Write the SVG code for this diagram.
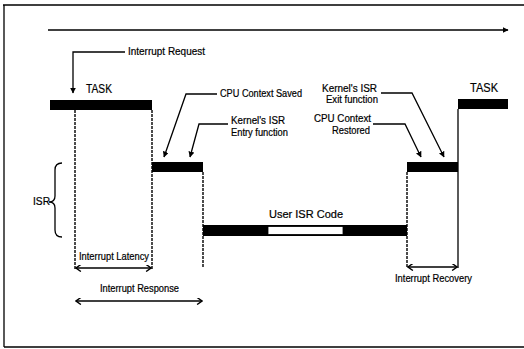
<svg xmlns="http://www.w3.org/2000/svg" width="524" height="349" viewBox="0 0 524 349">
<defs>
<marker id="ah" viewBox="0 0 10 10" refX="9" refY="5" markerWidth="6" markerHeight="6" orient="auto-start-reverse" markerUnits="userSpaceOnUse">
<path d="M0,0 L10,5 L0,10 z" fill="#000"/>
</marker>
<marker id="ch" viewBox="0 0 10 10" refX="9" refY="5" markerWidth="7" markerHeight="7" orient="auto-start-reverse" markerUnits="userSpaceOnUse">
<path d="M2,0 L9,5 L2,10" fill="none" stroke="#000" stroke-width="2"/>
</marker>
<style>
text{font-family:"Liberation Sans",Arial,sans-serif;font-size:10px;fill:#000;stroke:#000;stroke-width:0.2}
.big{font-size:12.5px}
.ln{stroke:#000;stroke-width:1.3;fill:none}
.dot{stroke:#000;stroke-width:1.4;fill:none;stroke-dasharray:3 1}
.bar{fill:#000}
.lead{stroke:#000;stroke-width:1.3;fill:none;marker-end:url(#ah)}
.dbl{stroke:#000;stroke-width:1.6;fill:none;marker-start:url(#ch);marker-end:url(#ch)}
</style>
</defs>
<rect width="524" height="349" fill="#fff"/>
<g id="frame">
<path class="ln" d="M3,5 H524 M4,5 V347 M4,347 H524" stroke-width="1.6"/>
</g>
<g id="timeline">
<line class="lead" x1="48" y1="30" x2="508" y2="30"/>
</g>
<g id="task-left">
<rect class="bar" x="50" y="100" width="102" height="10"/>
<text class="big" x="86" y="93" textLength="26" lengthAdjust="spacingAndGlyphs">TASK</text>
</g>
<g id="cpu-save">
<rect class="bar" x="152" y="162" width="51" height="10"/>
</g>
<g id="user-isr">
<rect class="bar" x="203" y="225" width="204" height="11"/>
<rect x="268" y="226.5" width="75" height="8" fill="#fff" stroke="#000" stroke-width="0.8"/>
<text x="269" y="218" font-size="11" textLength="74" lengthAdjust="spacingAndGlyphs">User ISR Code</text>
</g>
<g id="cpu-restore">
<rect class="bar" x="407" y="162" width="51" height="10"/>
</g>
<g id="task-right">
<rect class="bar" x="458" y="99" width="50" height="10"/>
<text class="big" x="470" y="92" textLength="28" lengthAdjust="spacingAndGlyphs">TASK</text>
</g>
<g id="isr-brace">
<path class="ln" d="M62,163 Q55,163 55,170 L55,196 Q55,202 49,202 Q55,202 55,208 L55,230 Q55,237 62,237"/>
<text x="33" y="205" textLength="17" lengthAdjust="spacingAndGlyphs">ISR</text>
</g>
<g id="labels">
<text x="128" y="55" textLength="77" lengthAdjust="spacingAndGlyphs">Interrupt Request</text>
<text x="220" y="97" textLength="82" lengthAdjust="spacingAndGlyphs">CPU Context Saved</text>
<text x="231" y="124" textLength="54" lengthAdjust="spacingAndGlyphs">Kernel's ISR</text>
<text x="231" y="136" textLength="57" lengthAdjust="spacingAndGlyphs">Entry function</text>
<text x="322" y="92" textLength="55" lengthAdjust="spacingAndGlyphs">Kernel's ISR</text>
<text x="326" y="103" textLength="52" lengthAdjust="spacingAndGlyphs">Exit function</text>
<text x="314" y="122" textLength="57" lengthAdjust="spacingAndGlyphs">CPU Context</text>
<text x="332" y="134" textLength="38" lengthAdjust="spacingAndGlyphs">Restored</text>
<text x="79" y="260" textLength="70" lengthAdjust="spacingAndGlyphs">Interrupt Latency</text>
<text x="100" y="292" textLength="79" lengthAdjust="spacingAndGlyphs">Interrupt Response</text>
<text x="395" y="282" textLength="77" lengthAdjust="spacingAndGlyphs">Interrupt Recovery</text>
</g>
<g id="connectors">
<path class="dot" d="M75,110 V270 M152,110 V270 M203,172 V268 M407,172 V268"/>
<path class="ln" d="M458,109 V268" stroke-width="1.5"/>
<path class="lead" d="M125,52 H73 V93"/>
<path class="lead" d="M217,94 H186 L164,157"/>
<path class="lead" d="M228,124 H199 L190,157"/>
<path class="lead" d="M381,93 H412 L444,157"/>
<path class="lead" d="M373,124 H405 L421,157"/>
<line class="dbl" x1="76" y1="268" x2="151" y2="268"/>
<line class="dbl" x1="76" y1="301" x2="202" y2="301"/>
<line class="dbl" x1="408" y1="267" x2="457" y2="267"/>
</g>
</svg>
